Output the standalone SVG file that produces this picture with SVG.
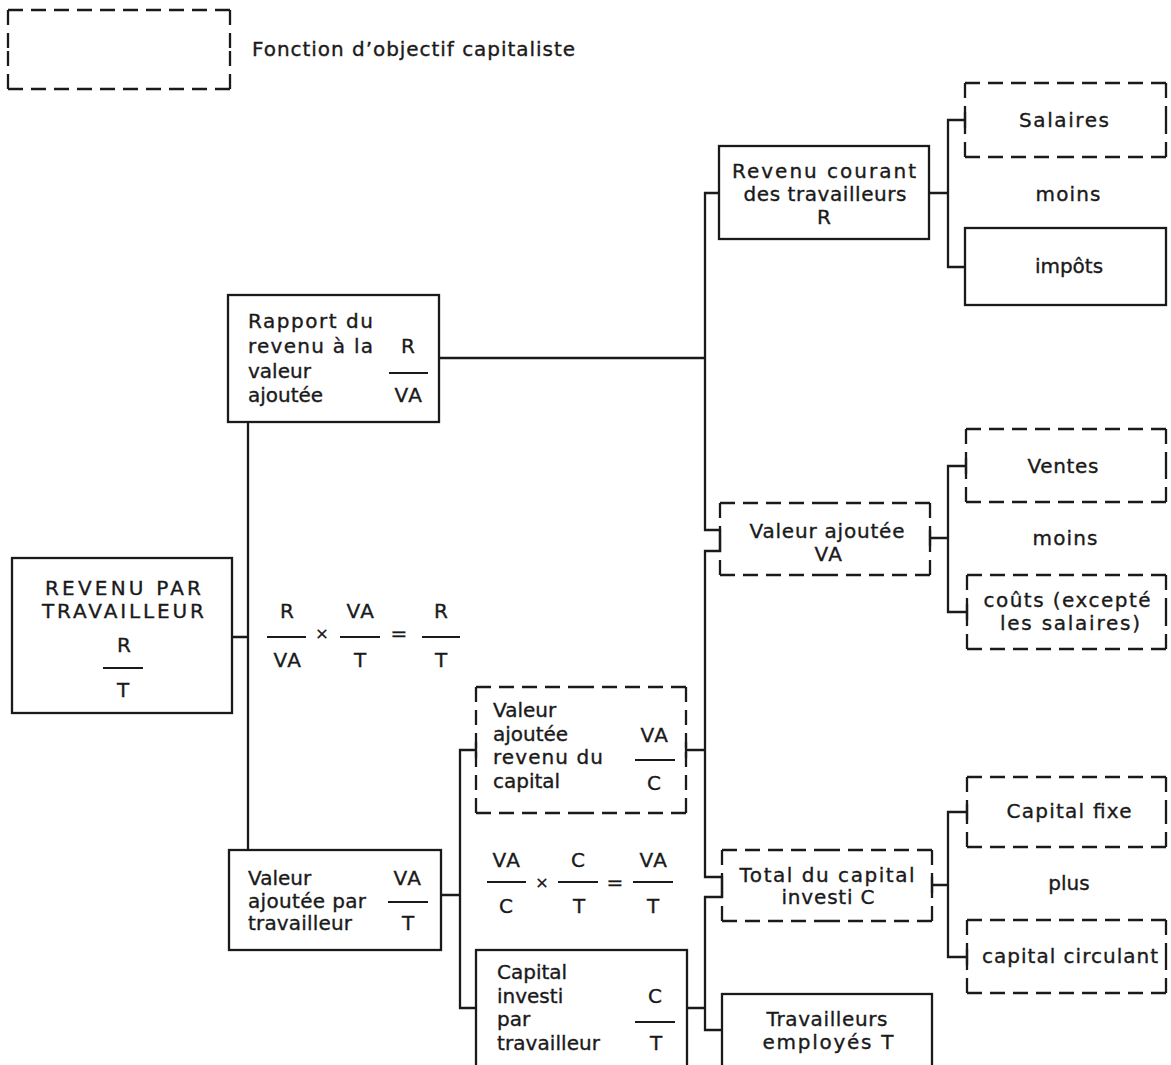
<svg xmlns="http://www.w3.org/2000/svg" width="1171" height="1065" viewBox="0 0 1171 1065">
<style>
.t{font-family:"DejaVu Sans","Liberation Sans",Arial,sans-serif;font-size:20px;fill:#1a1a1a;stroke:#1a1a1a;stroke-width:0.35}
.m{text-anchor:middle}
.va{letter-spacing:1.5px}
.box{fill:none;stroke:#1a1a1a;stroke-width:2.3}
.dash{fill:none;stroke:#1a1a1a;stroke-width:2.3;stroke-dasharray:15 8}
.ln{fill:none;stroke:#1a1a1a;stroke-width:2.3}
.fr{fill:none;stroke:#1a1a1a;stroke-width:1.8}
</style>
<rect width="1171" height="1065" fill="#fff"/>

<g id="legend">
<path class="dash" d="M8,10H119M230,10H119M230,10V49.5M230,89V49.5M230,89H119M8,89H119M8,89V49.5M8,10V49.5"/>
<text class="t" x="252" y="56" textLength="323" lengthAdjust="spacing">Fonction d’objectif capitaliste</text>
</g>

<g id="connectors">
<path class="ln" d="M232,637H248M248,422V850"/>
<path class="ln" d="M439,358H705"/>
<path class="ln" d="M719,193H705V530H720V551H705V877H722V897H705V1030H722"/>
<path class="ln" d="M686,750H705M687,1008H705"/>
<path class="ln" d="M441,895H460M476,750H460V1008H476"/>
<path class="ln" d="M929,193H948M965,120H948V267H965"/>
<path class="ln" d="M930,538H948M966,466H948V612H967"/>
<path class="ln" d="M932,885H948M967,812H948V957H967"/>
<path class="ln" d="M965,112V128M966,458V474M967,604V620M967,804V820M967,949V965M930,530V546M932,877V893M476,742V758M686,742V758"/>
</g>

<g id="revenu-par-travailleur">
<rect class="box" x="12" y="558" width="220" height="155"/>
<text class="t m" x="123" y="595" textLength="156" lengthAdjust="spacing">REVENU PAR</text>
<text class="t m" x="123" y="618" textLength="162" lengthAdjust="spacing">TRAVAILLEUR</text>
<text class="t m" x="124" y="652">R</text>
<path class="fr" d="M103,668H143"/>
<text class="t m" x="123" y="697">T</text>
</g>

<g id="equation-1">
<text class="t m" x="287" y="618">R</text>
<path class="fr" d="M267,637H306"/>
<text class="t m va" x="288" y="667">VA</text>
<text class="t m" x="322" y="639" style="font-size:16px">×</text>
<text class="t m va" x="361" y="618">VA</text>
<path class="fr" d="M340,637H380"/>
<text class="t m" x="360" y="667">T</text>
<text class="t m" x="399" y="640">=</text>
<text class="t m" x="441" y="618">R</text>
<path class="fr" d="M422,637H460"/>
<text class="t m" x="441" y="667">T</text>
</g>

<g id="rapport">
<rect class="box" x="228" y="295" width="211" height="127"/>
<text class="t" x="248" y="328" textLength="125" lengthAdjust="spacing">Rapport du</text>
<text class="t" x="248" y="353" textLength="125" lengthAdjust="spacing">revenu à la</text>
<text class="t" x="248" y="378">valeur</text>
<text class="t" x="248" y="402">ajoutée</text>
<text class="t m" x="408" y="353">R</text>
<path class="fr" d="M389,373H428"/>
<text class="t m va" x="409" y="402">VA</text>
</g>

<g id="va-par-travailleur">
<rect class="box" x="229" y="850" width="212" height="100"/>
<text class="t" x="248" y="885">Valeur</text>
<text class="t" x="248" y="908" textLength="118" lengthAdjust="spacing">ajoutée par</text>
<text class="t" x="248" y="930" textLength="104" lengthAdjust="spacing">travailleur</text>
<text class="t m va" x="408" y="885">VA</text>
<path class="fr" d="M388,902H428"/>
<text class="t m" x="408" y="930">T</text>
</g>

<g id="va-revenu-capital">
<path class="dash" d="M476,687H581M686,687H581M686,687V750M686,813V750M686,813H581M476,813H581M476,813V750M476,687V750"/>
<text class="t" x="493" y="717">Valeur</text>
<text class="t" x="493" y="741">ajoutée</text>
<text class="t" x="493" y="764" textLength="110" lengthAdjust="spacing">revenu du</text>
<text class="t" x="493" y="788">capital</text>
<text class="t m va" x="655" y="742">VA</text>
<path class="fr" d="M635,760H675"/>
<text class="t m" x="654" y="790">C</text>
</g>

<g id="equation-2">
<text class="t m va" x="507" y="867">VA</text>
<path class="fr" d="M487,882H526"/>
<text class="t m" x="506" y="913">C</text>
<text class="t m" x="542" y="888" style="font-size:16px">×</text>
<text class="t m" x="578" y="867">C</text>
<path class="fr" d="M558,882H598"/>
<text class="t m" x="579" y="913">T</text>
<text class="t m" x="615" y="889">=</text>
<text class="t m va" x="654" y="867">VA</text>
<path class="fr" d="M633,882H673"/>
<text class="t m" x="653" y="913">T</text>
</g>

<g id="capital-par-travailleur">
<rect class="box" x="476" y="950" width="211" height="130"/>
<text class="t" x="497" y="979">Capital</text>
<text class="t" x="497" y="1003">investi</text>
<text class="t" x="497" y="1026">par</text>
<text class="t" x="497" y="1050" textLength="103" lengthAdjust="spacing">travailleur</text>
<text class="t m" x="655" y="1003">C</text>
<path class="fr" d="M635,1022H675"/>
<text class="t m" x="656" y="1050">T</text>
</g>

<g id="revenu-courant">
<rect class="box" x="719" y="146" width="210" height="93"/>
<text class="t m" x="824" y="178" textLength="184" lengthAdjust="spacing">Revenu courant</text>
<text class="t m" x="825" y="201" textLength="163" lengthAdjust="spacing">des travailleurs</text>
<text class="t m" x="824" y="224">R</text>
</g>

<g id="salaires">
<path class="dash" d="M965,83H1065.5M1166,83H1065.5M1166,83V120M1166,157V120M1166,157H1065.5M965,157H1065.5M965,157V120M965,83V120"/>
<text class="t m" x="1064" y="127" textLength="90" lengthAdjust="spacing">Salaires</text>
</g>
<text id="moins-1" class="t m" x="1068" y="201" textLength="65" lengthAdjust="spacing">moins</text>
<g id="impots">
<rect class="box" x="965" y="228" width="201" height="77"/>
<text class="t m" x="1069" y="273">impôts</text>
</g>

<g id="valeur-ajoutee">
<path class="dash" d="M720,503H825M930,503H825M930,503V539M930,575V539M930,575H825M720,575H825M720,575V539M720,503V539"/>
<text class="t m" x="827" y="538" textLength="155" lengthAdjust="spacing">Valeur ajoutée</text>
<text class="t m va" x="829" y="561">VA</text>
</g>

<g id="ventes">
<path class="dash" d="M966,429H1066M1166,429H1066M1166,429V465.5M1166,502V465.5M1166,502H1066M966,502H1066M966,502V465.5M966,429V465.5"/>
<text class="t m" x="1063" y="473" textLength="71" lengthAdjust="spacing">Ventes</text>
</g>
<text id="moins-2" class="t m" x="1065" y="545" textLength="65" lengthAdjust="spacing">moins</text>
<g id="couts">
<path class="dash" d="M967,575H1066.5M1166,575H1066.5M1166,575V612M1166,649V612M1166,649H1066.5M967,649H1066.5M967,649V612M967,575V612"/>
<text class="t m" x="1067" y="607" textLength="167" lengthAdjust="spacing">coûts (excepté</text>
<text class="t m" x="1070" y="630" textLength="140" lengthAdjust="spacing">les salaires)</text>
</g>

<g id="total-capital">
<path class="dash" d="M722,850H827M932,850H827M932,850V885.5M932,921V885.5M932,921H827M722,921H827M722,921V885.5M722,850V885.5"/>
<text class="t m" x="827" y="882" textLength="175" lengthAdjust="spacing">Total du capital</text>
<text class="t m" x="828" y="904" textLength="93" lengthAdjust="spacing">investi C</text>
</g>

<g id="capital-fixe">
<path class="dash" d="M967,777H1066.5M1166,777H1066.5M1166,777V812M1166,847V812M1166,847H1066.5M967,847H1066.5M967,847V812M967,777V812"/>
<text class="t m" x="1069" y="818" textLength="125" lengthAdjust="spacing">Capital fixe</text>
</g>
<text id="plus" class="t m" x="1069" y="890">plus</text>
<g id="capital-circulant">
<path class="dash" d="M967,920H1066.5M1166,920H1066.5M1166,920V956.5M1166,993V956.5M1166,993H1066.5M967,993H1066.5M967,993V956.5M967,920V956.5"/>
<text class="t m" x="1070" y="963" textLength="176" lengthAdjust="spacing">capital circulant</text>
</g>

<g id="travailleurs-employes">
<rect class="box" x="722" y="994" width="210" height="90"/>
<text class="t m" x="827" y="1026" textLength="121" lengthAdjust="spacing">Travailleurs</text>
<text class="t m" x="828" y="1049" textLength="131" lengthAdjust="spacing">employés T</text>
</g>
</svg>
